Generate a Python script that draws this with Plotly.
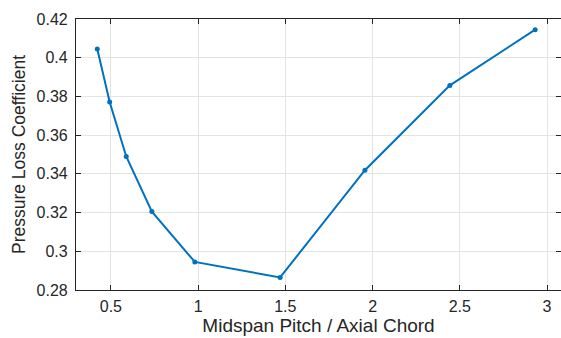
import plotly.graph_objects as go

pitch = [0.422, 0.493, 0.588, 0.735, 0.981, 1.470, 1.956, 2.443, 2.932]
loss = [0.4045, 0.3771, 0.3490, 0.3205, 0.2945, 0.2865, 0.3419, 0.3857, 0.4145]

x_ticks = [0.5, 1, 1.5, 2, 2.5, 3]
x_labels = ["0.5", "1", "1.5", "2", "2.5", "3"]
y_ticks = [0.28, 0.30, 0.32, 0.34, 0.36, 0.38, 0.40, 0.42]
y_labels = ["0.28", "0.3", "0.32", "0.34", "0.36", "0.38", "0.4", "0.42"]

FONT = "Liberation Sans, Arial, sans-serif"

fig = go.Figure()
fig.add_trace(go.Scatter(
    x=pitch, y=loss, mode="lines+markers",
    line=dict(color="#0072BD", width=2),
    marker=dict(color="#0072BD", size=5),
))

axis_common = dict(
    showline=True, linecolor="#262626", linewidth=1.2, mirror="ticks",
    ticks="inside", ticklen=5, tickcolor="#262626", tickwidth=1,
    showgrid=True, gridcolor="#e3e3e3", gridwidth=1,
    zeroline=False,
    tickfont=dict(family=FONT, size=16, color="#262626"),
)

fig.update_layout(
    width=561, height=338,
    margin=dict(l=76, r=0, t=19, b=48),
    paper_bgcolor="white", plot_bgcolor="white",
    showlegend=False,
    xaxis=dict(
        range=[0.3, 3.08], tickvals=x_ticks, ticktext=x_labels,
        ticklabelstandoff=2,
        title=dict(text="Midspan Pitch / Axial Chord", standoff=2,
                   font=dict(family=FONT, size=19, color="#262626")),
        **axis_common,
    ),
    yaxis=dict(
        range=[0.28, 0.42], tickvals=y_ticks, ticktext=y_labels,
        ticklabelstandoff=4,
        title=dict(text="Pressure Loss Coefficient", standoff=6,
                   font=dict(family=FONT, size=17.5, color="#262626")),
        **axis_common,
    ),
)

fig.write_html("out.html")
